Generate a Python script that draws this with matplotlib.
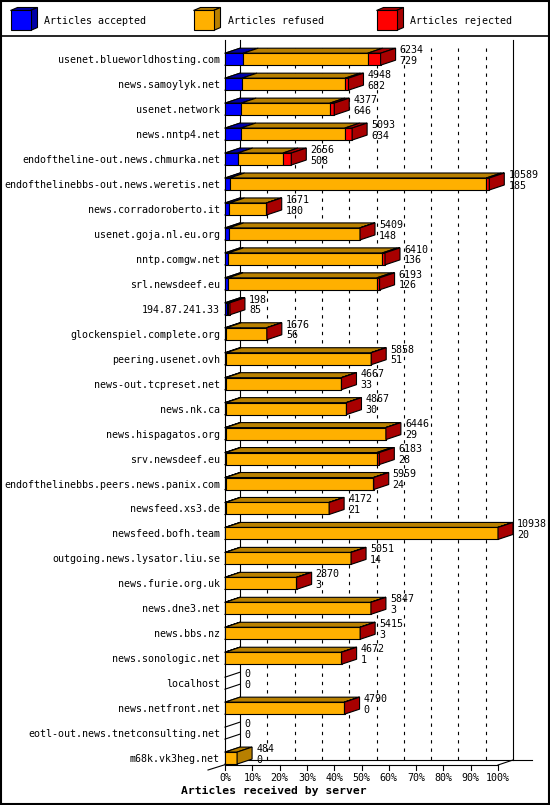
import matplotlib
matplotlib.use("Agg")
import matplotlib.pyplot as plt
from matplotlib.patches import Rectangle, Polygon

servers = [
    "usenet.blueworldhosting.com", "news.samoylyk.net", "usenet.network",
    "news.nntp4.net", "endoftheline-out.news.chmurka.net",
    "endofthelinebbs-out.news.weretis.net", "news.corradoroberto.it",
    "usenet.goja.nl.eu.org", "nntp.comgw.net", "srl.newsdeef.eu",
    "194.87.241.33", "glockenspiel.complete.org", "peering.usenet.ovh",
    "news-out.tcpreset.net", "news.nk.ca", "news.hispagatos.org",
    "srv.newsdeef.eu", "endofthelinebbs.peers.news.panix.com",
    "newsfeed.xs3.de", "newsfeed.bofh.team", "outgoing.news.lysator.liu.se",
    "news.furie.org.uk", "news.dne3.net", "news.bbs.nz", "news.sonologic.net",
    "localhost", "news.netfront.net", "eotl-out.news.tnetconsulting.net",
    "m68k.vk3heg.net",
]
received = [6234, 4948, 4377, 5093, 2656, 10589, 1671, 5409, 6410, 6193,
            198, 1676, 5858, 4667, 4867, 6446, 6183, 5959, 4172, 10938,
            5051, 2870, 5847, 5415, 4672, 0, 4790, 0, 484]
accepted = [729, 682, 646, 634, 508, 185, 180, 148, 136, 126,
            85, 56, 51, 33, 30, 29, 28, 24, 21, 20,
            14, 3, 3, 3, 1, 0, 0, 0, 0]
refused = [4985, 4136, 3556, 4164, 1813, 10284, 1481, 5251, 6174, 5957,
           43, 1615, 5797, 4624, 4827, 6407, 6055, 5925, 4141, 10908,
           5027, 2857, 5834, 5402, 4661, 0, 4780, 0, 484]
rejected = [520, 130, 175, 295, 335, 120, 10, 10, 100, 110,
            70, 5, 10, 10, 10, 10, 100, 10, 10, 10,
            10, 10, 10, 10, 10, 0, 10, 0, 0]

series = [
    ("Articles accepted", accepted, "#0000ff", "#0000a8"),
    ("Articles refused", refused, "#ffb000", "#b88000"),
    ("Articles rejected", rejected, "#ff0000", "#a80000"),
]

W, H = 550, 805
plt.rcParams["font.family"] = ["DejaVu Sans Mono", "DejaVu Sans"]
plt.rcParams["font.size"] = 7.2
LW = 0.8

fig = plt.figure(figsize=(W / 100, H / 100), dpi=100)

# whole picture in pixel units: frame, legend, axis title
canvas = fig.add_axes([0, 0, 1, 1])
canvas.set_xlim(0, W)
canvas.set_ylim(H, 0)
canvas.axis("off")

# front plane of the 3d plot
left, right, top, floor = 225, 498, 40, 765
row0, step = 59.2, 24.96
ax = fig.add_axes([left / W, 1 - floor / H, (right - left) / W, (floor - top) / H])
ax.set_xlim(0, 100)
y_floor, y_top = (floor - row0) / step, (top - row0) / step
ax.set_ylim(y_floor, y_top)
ax.axis("off")

px = 100 / (right - left)
py = 1 / step
dx, dy = 15 * px, -5 * py
bh = 12 * py

# back wall with grid
for k in range(11):
    x = 10 * k + dx
    if k in (0, 10):
        ax.plot([x, x], [y_top, y_floor + dy], color="black", lw=LW, clip_on=False)
    else:
        ax.plot([x, x], [y_top + 8 * py, y_floor + dy], color="black", lw=LW,
                ls=(0, (3, 4.5)), clip_on=False)
ax.plot([0, 0], [y_top, y_floor], color="black", lw=LW, clip_on=False)

# floor
ax.plot([-17 * px, dx], [y_floor + 5 * py, y_floor + dy], color="black", lw=LW, clip_on=False)
ax.plot([0, 100], [y_floor, y_floor], color="black", lw=LW, clip_on=False)
ax.plot([100, 100 + dx], [y_floor, y_floor + dy], color="black", lw=LW, clip_on=False)
ax.plot([dx, 100 + dx + 19 * px], [y_floor + dy] * 2, color="black", lw=LW, clip_on=False)
for k in range(11):
    x = 10 * k
    ax.plot([x, x], [y_floor, y_floor + 5 * py], color="black", lw=LW, clip_on=False)
    ax.text(x, y_floor + 13 * py, f"{x}%", ha="center", va="center")

biggest = max(received)
for i, name in enumerate(servers):
    yt, yb = i - bh / 2, i + bh / 2
    for yy in (yt, yb):
        ax.plot([0, dx], [yy, yy + dy], color="black", lw=LW, clip_on=False)
    start = 0
    last = None
    for label, values, color, dark in series:
        v = values[i]
        if v <= 0:
            continue
        w = v / biggest * 100
        ax.add_patch(Polygon([(start, yt), (start + w, yt), (start + w + dx, yt + dy),
                              (start + dx, yt + dy)], closed=True, fc=dark,
                             ec="black", lw=LW, clip_on=False, zorder=3))
        ax.add_patch(Rectangle((start, yt), w, bh, fc=color, ec="black", lw=LW,
                               clip_on=False, zorder=4))
        start += w
        last = dark
    if last is not None:
        ax.add_patch(Polygon([(start, yt), (start + dx, yt + dy), (start + dx, yb + dy),
                              (start, yb)], closed=True, fc=last, ec="black", lw=LW,
                             clip_on=False, zorder=5))
    tx = start + dx + 4 * px
    ax.text(tx, i - 9.2 * py, str(received[i]), ha="left", va="center", zorder=6)
    ax.text(tx, i + 1.6 * py, str(accepted[i]), ha="left", va="center", zorder=6)
    ax.text(-5 * px, i + 1 * py, name, ha="right", va="center")

# legend
for (label, values, color, dark), x0 in zip(series, [10.5, 193.5, 376.5]):
    y0, s, ddx, ddy = 10.5, 20, 7, 3
    canvas.add_patch(Polygon([(x0, y0), (x0 + s, y0), (x0 + s + ddx, y0 - ddy),
                              (x0 + ddx, y0 - ddy)], closed=True, fc=dark, ec="black", lw=LW))
    canvas.add_patch(Polygon([(x0 + s, y0), (x0 + s + ddx, y0 - ddy),
                              (x0 + s + ddx, y0 + s - ddy), (x0 + s, y0 + s)],
                             closed=True, fc=dark, ec="black", lw=LW))
    canvas.add_patch(Rectangle((x0, y0), s, s, fc=color, ec="black", lw=LW))
    canvas.text(x0 + 34, 20.5, label, ha="left", va="center")

canvas.plot([0, W], [36, 36], color="black", lw=1.2)
canvas.add_patch(Rectangle((0.75, 0.75), W - 1.5, H - 1.5, fill=False, ec="black", lw=1.5))
canvas.text(274, 791, "Articles received by server", ha="center", va="center",
            weight="bold", size=8.2)

fig.savefig("out.png", dpi=100, facecolor="white")
